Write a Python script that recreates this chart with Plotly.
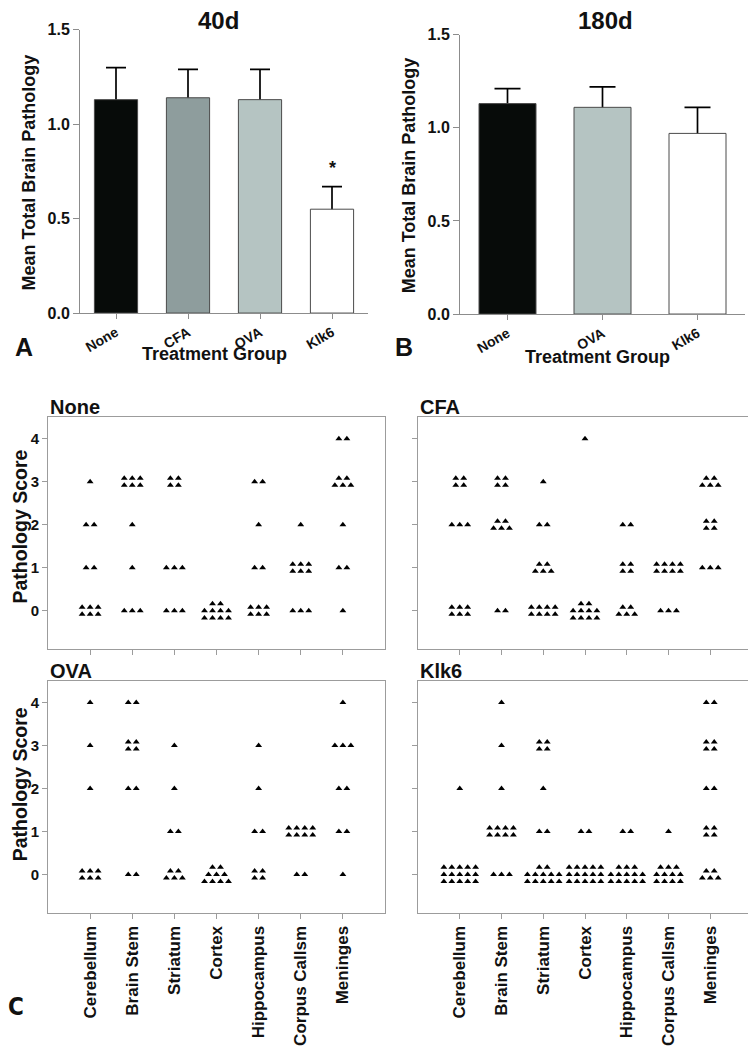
import plotly.graph_objects as go

# page body has an 8px margin: figure is sized/offset so reference pixels map 1:1
OFF = 8
W, H = 756 - OFF, 1050 - OFF
FONT = "Liberation Sans, Arial, Helvetica, sans-serif"

# ---------------- data ----------------
groups_40 = ["None", "CFA", "OVA", "Klk6"]
mean_40 = [1.13, 1.14, 1.13, 0.55]
sem_40 = [0.17, 0.15, 0.16, 0.12]

groups_180 = ["None", "OVA", "Klk6"]
mean_180 = [1.13, 1.11, 0.97]
sem_180 = [0.08, 0.11, 0.14]

bar_ticks = [0.0, 0.5, 1.0, 1.5]

regions = ["Cerebellum", "Brain Stem", "Striatum", "Cortex",
           "Hippocampus", "Corpus Callsm", "Meninges"]
score_ticks = [0, 1, 2, 3, 4]

# individual scores: for each region, score -> rows of animals (top row first)
none_rows = [
    {3: [1], 2: [2], 1: [2], 0: [3, 3]},
    {3: [3, 3], 2: [1], 1: [1], 0: [3]},
    {3: [2, 2], 1: [3], 0: [3]},
    {0: [2, 4, 4]},
    {3: [2], 2: [1], 1: [2], 0: [3, 3]},
    {2: [1], 1: [3, 3], 0: [3]},
    {4: [2], 3: [2, 3], 2: [1], 1: [2], 0: [1]},
]
cfa_rows = [
    {3: [2, 2], 2: [3], 0: [3, 3]},
    {3: [2, 2], 2: [2, 3], 0: [2]},
    {3: [1], 2: [2], 1: [2, 3], 0: [4, 4]},
    {4: [1], 0: [2, 4, 4]},
    {2: [2], 1: [2, 2], 0: [2, 3]},
    {1: [4, 4], 0: [3]},
    {3: [2, 3], 2: [2, 2], 1: [3]},
]
ova_rows = [
    {4: [1], 3: [1], 2: [1], 0: [3, 3]},
    {4: [2], 3: [2, 2], 2: [2], 0: [2]},
    {3: [1], 2: [1], 1: [2], 0: [2, 3]},
    {0: [2, 3, 4]},
    {3: [1], 2: [1], 1: [2], 0: [2, 2]},
    {1: [4, 4], 0: [2]},
    {4: [1], 3: [3], 2: [2], 1: [2], 0: [1]},
]
klk6_rows = [
    {2: [1], 0: [5, 5, 5]},
    {4: [1], 3: [1], 2: [1], 1: [4, 4], 0: [3]},
    {3: [2, 2], 2: [1], 1: [2], 0: [2, 5, 5]},
    {1: [2], 0: [5, 5, 5]},
    {1: [2], 0: [3, 5, 5]},
    {1: [1], 0: [3, 4, 4]},
    {4: [2], 3: [2, 2], 2: [2], 1: [2, 2], 0: [2, 3]},
]

# ---------------- style ----------------
fill = {"None": "#070b09", "CFA": "#8e9d9d", "OVA": "#b5c4c2", "Klk6": "#ffffff"}
AX = "#8c8c8c"
BOX = "#9c9c9c"


def px_x(p):
    return (p - OFF) / W


def px_y(p):
    return 1 - (p - OFF) / H


fig = go.Figure()


def add_bars(groups, means, sems, xa, ya, capw):
    # error bars (upper part only visible; lower part hidden behind the bars)
    fig.add_trace(go.Bar(
        x=groups, y=means, xaxis=xa, yaxis=ya, width=0.6,
        marker=dict(color="rgba(0,0,0,0)", line=dict(width=0)),
        error_y=dict(type="data", symmetric=False, array=sems,
                     arrayminus=[m * 0.5 for m in means],
                     color="#000000", thickness=1.7, width=capw),
        hoverinfo="skip", showlegend=False))
    fig.add_trace(go.Bar(
        x=groups, y=means, xaxis=xa, yaxis=ya, width=0.6,
        marker=dict(color=[fill[g] for g in groups],
                    line=dict(color="#4a4a4a", width=1)),
        hoverinfo="skip", showlegend=False))


add_bars(groups_40, mean_40, sem_40, "x", "y", 10)
add_bars(groups_180, mean_180, sem_180, "x2", "y2", 13)


def dots(rows_by_region, dx=0.19, dy=0.165):
    xs, ys = [], []
    for i, d in enumerate(rows_by_region):
        for score, rows in d.items():
            nr = len(rows)
            for r, n in enumerate(rows):
                yy = score + ((nr - 1) / 2 - r) * dy
                for k in range(n):
                    xs.append(i + 1 + (k - (n - 1) / 2) * dx)
                    ys.append(yy)
    return xs, ys


for rows, xa, ya in [(none_rows, "x3", "y3"), (cfa_rows, "x4", "y4"),
                     (ova_rows, "x5", "y5"), (klk6_rows, "x6", "y6")]:
    xs, ys = dots(rows)
    fig.add_trace(go.Scatter(
        x=xs, y=ys, xaxis=xa, yaxis=ya, mode="markers",
        marker=dict(symbol="triangle-up", size=6, color="#000000",
                    line=dict(width=0)),
        hoverinfo="skip", showlegend=False))

# ---------------- axes ----------------
def bar_y(dom):
    return dict(domain=dom, range=[0, 1.5], tickvals=bar_ticks,
                ticktext=[f"{v:.1f}" for v in bar_ticks],
                showline=True, linecolor=AX, linewidth=1,
                ticks="outside", ticklen=6, tickcolor=AX, tickwidth=1,
                tickfont=dict(family=FONT, size=16, weight="bold", color="#111"),
                showgrid=False, zeroline=False, fixedrange=True)


def bar_x(dom, n, anchor):
    return dict(domain=dom, anchor=anchor, type="category", range=[-0.5, n - 0.5],
                showline=True, linecolor=AX, linewidth=1,
                ticks="outside", ticklen=5, tickcolor=AX, tickangle=-30,
                tickfont=dict(family=FONT, size=14, weight="bold", color="#111"),
                showgrid=False, zeroline=False, fixedrange=True)


def sc_x(dom, anchor, labels):
    return dict(domain=dom, anchor=anchor, range=[0, 8],
                tickvals=list(range(1, len(regions) + 1)), ticktext=regions,
                showticklabels=labels, tickangle=-90,
                showline=True, mirror=True, linecolor=BOX, linewidth=1,
                ticks="outside", ticklen=5, tickcolor=BOX,
                tickfont=dict(family=FONT, size=17, weight="bold", color="#111"),
                showgrid=False, zeroline=False, fixedrange=True)


def sc_y(dom, anchor, labels):
    return dict(domain=dom, anchor=anchor, range=[-0.9, 4.5],
                tickvals=score_ticks, showticklabels=labels,
                showline=True, mirror=True, linecolor=BOX, linewidth=1,
                ticks="outside", ticklen=5, tickcolor=BOX,
                tickfont=dict(family=FONT, size=15, weight="bold", color="#111"),
                showgrid=False, zeroline=False, fixedrange=True)


LX = [px_x(48), px_x(385)]
RX = [px_x(418), px_x(752)]
TY = [px_y(652), px_y(416)]
BY = [px_y(920), px_y(684)]

fig.update_layout(
    width=W, height=H, autosize=False,
    margin=dict(l=0, r=0, t=0, b=0),
    paper_bgcolor="white", plot_bgcolor="white",
    barmode="overlay", showlegend=False,
    font=dict(family=FONT, color="#111"),
    xaxis=bar_x([px_x(80), px_x(368)], 4, "y"),
    yaxis=bar_y([px_y(310), px_y(22)]) | dict(anchor="x"),
    xaxis2=bar_x([px_x(460), px_x(745)], 3, "y2"),
    yaxis2=bar_y([px_y(311), px_y(27)]) | dict(anchor="x2"),
    xaxis3=sc_x(LX, "y3", False), yaxis3=sc_y(TY, "x3", True),
    xaxis4=sc_x(RX, "y4", False), yaxis4=sc_y(TY, "x4", False),
    xaxis5=sc_x(LX, "y5", True), yaxis5=sc_y(BY, "x5", True),
    xaxis6=sc_x(RX, "y6", True), yaxis6=sc_y(BY, "x6", False),
)


def ann(text, x, y, size, angle=0, xanchor="center", yanchor="middle", family=FONT):
    fig.add_annotation(text=text, x=px_x(x), y=px_y(y), xref="paper", yref="paper",
                       showarrow=False, textangle=angle, xanchor=xanchor, yanchor=yanchor,
                       borderpad=0,
                       font=dict(family=family, size=size, weight="bold", color="#111"))


ann("40d", 218, 13, 24)
ann("180d", 605, 13, 24)
ann("Mean Total Brain Pathology", 29, 167, 18, angle=-90)
ann("Mean Total Brain Pathology", 409, 170, 18, angle=-90)
ann("Treatment Group", 214, 352, 18)
ann("Treatment Group", 597, 355, 18)
ann("A", 24, 344, 25)
ann("B", 404, 344, 25)
ann("C", 16, 1015, 24, family="Liberation Sans Narrow, DejaVu Sans Condensed, Liberation Sans")

# significance marker above Klk6 (40 d)
fig.add_annotation(text="*", x="Klk6", y=mean_40[3] + sem_40[3], xref="x", yref="y",
                   showarrow=False, yanchor="bottom", yshift=7,
                   font=dict(family=FONT, size=18, weight="bold", color="#111"))

ann("Pathology Score", 20, 527, 19.5, angle=-90)
ann("Pathology Score", 20, 789, 19.5, angle=-90)

for t, x, y in [("None", 48, 416), ("CFA", 418, 416), ("OVA", 48, 684), ("Klk6", 418, 684)]:
    fig.add_annotation(text=t, x=px_x(x), y=px_y(y), xref="paper", yref="paper",
                       showarrow=False, xanchor="left", yanchor="bottom", yshift=-3,
                       font=dict(family=FONT, size=20, weight="bold", color="#111"))

fig.write_html("out.html", config={"displayModeBar": False, "staticPlot": True})
